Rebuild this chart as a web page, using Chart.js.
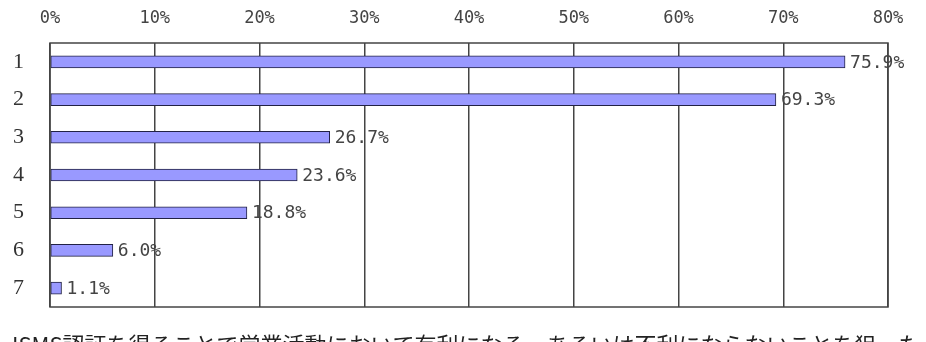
<!DOCTYPE html>
<html>
<head>
<meta charset="utf-8">
<script src="https://cdn.jsdelivr.net/npm/chart.js@4"></script>
<style>
  html, body { margin: 0; padding: 0; background: #fff; overflow: hidden; }
  #wrap { width: 926px; height: 358px; }
</style>
</head>
<body>
<div id="wrap"><canvas id="barChart"></canvas></div>
<script>
const categories = ['1', '2', '3', '4', '5', '6', '7'];
const shares = [75.9, 69.3, 26.7, 23.6, 18.8, 6.0, 1.1];
const tickValues = [0, 10, 20, 30, 40, 50, 60, 70, 80];
const caption = 'ISMS認証を得ることで営業活動において有利になる、あるいは不利にならないことを狙った';

// frame around the plot area
const frame = {
  id: 'frame',
  afterDraw(chart) {
    const { ctx, chartArea: a } = chart;
    ctx.save();
    ctx.strokeStyle = '#444';
    ctx.lineWidth = 1.5;
    ctx.strokeRect(a.left, a.top, a.right - a.left, a.bottom - a.top);
    ctx.restore();
  }
};

// value labels at the end of each bar
const valueLabels = {
  id: 'valueLabels',
  afterDatasetsDraw(chart) {
    const { ctx } = chart;
    const meta = chart.getDatasetMeta(0);
    ctx.save();
    ctx.font = '18px "DejaVu Sans Mono"';
    ctx.fillStyle = '#444';
    ctx.textAlign = 'left';
    ctx.textBaseline = 'middle';
    meta.data.forEach((bar, i) => {
      ctx.fillText(shares[i].toFixed(1) + '%', bar.x + 5, bar.y + 1);
    });
    ctx.restore();
  }
};

// caption line under the chart (cut off by the window edge)
const captionLine = {
  id: 'captionLine',
  afterDraw(chart) {
    const { ctx } = chart;
    ctx.save();
    ctx.font = '22px "Noto Sans CJK JP"';
    ctx.fillStyle = '#222';
    ctx.textAlign = 'left';
    ctx.textBaseline = 'middle';
    ctx.fillText(caption, 12, chart.chartArea.bottom + 38);
    ctx.restore();
  }
};

new Chart(document.getElementById('barChart'), {
  type: 'bar',
  data: {
    labels: categories,
    datasets: [{
      data: shares,
      backgroundColor: '#9999FF',
      borderColor: '#222244',
      borderWidth: 1,
      borderSkipped: false,
      barThickness: 12,
    }]
  },
  options: {
    indexAxis: 'y',
    responsive: true,
    maintainAspectRatio: false,
    animation: false,
    layout: { padding: { left: 12, right: 38, top: 0, bottom: 51 } },
    plugins: {
      legend: { display: false },
      tooltip: { enabled: false }
    },
    scales: {
      x: {
        position: 'top',
        min: 0,
        max: 80,
        afterBuildTicks(scale) {
          scale.ticks = tickValues.map(v => ({ value: v }));
        },
        afterFit(scale) { scale.height = 43; },
        ticks: {
          padding: 14,
          color: '#444',
          font: { family: '"DejaVu Sans Mono"', size: 17 },
          callback: v => v + '%'
        },
        grid: { color: '#444', lineWidth: 1.5, drawTicks: false },
        border: { display: false }
      },
      y: {
        afterFit(scale) { scale.width = 38; },
        ticks: {
          padding: 18,
          color: '#333',
          font: { family: '"Liberation Serif"', size: 22 }
        },
        grid: { display: false },
        border: { display: false }
      }
    }
  },
  plugins: [frame, valueLabels, captionLine]
});
</script>
</body>
</html>
